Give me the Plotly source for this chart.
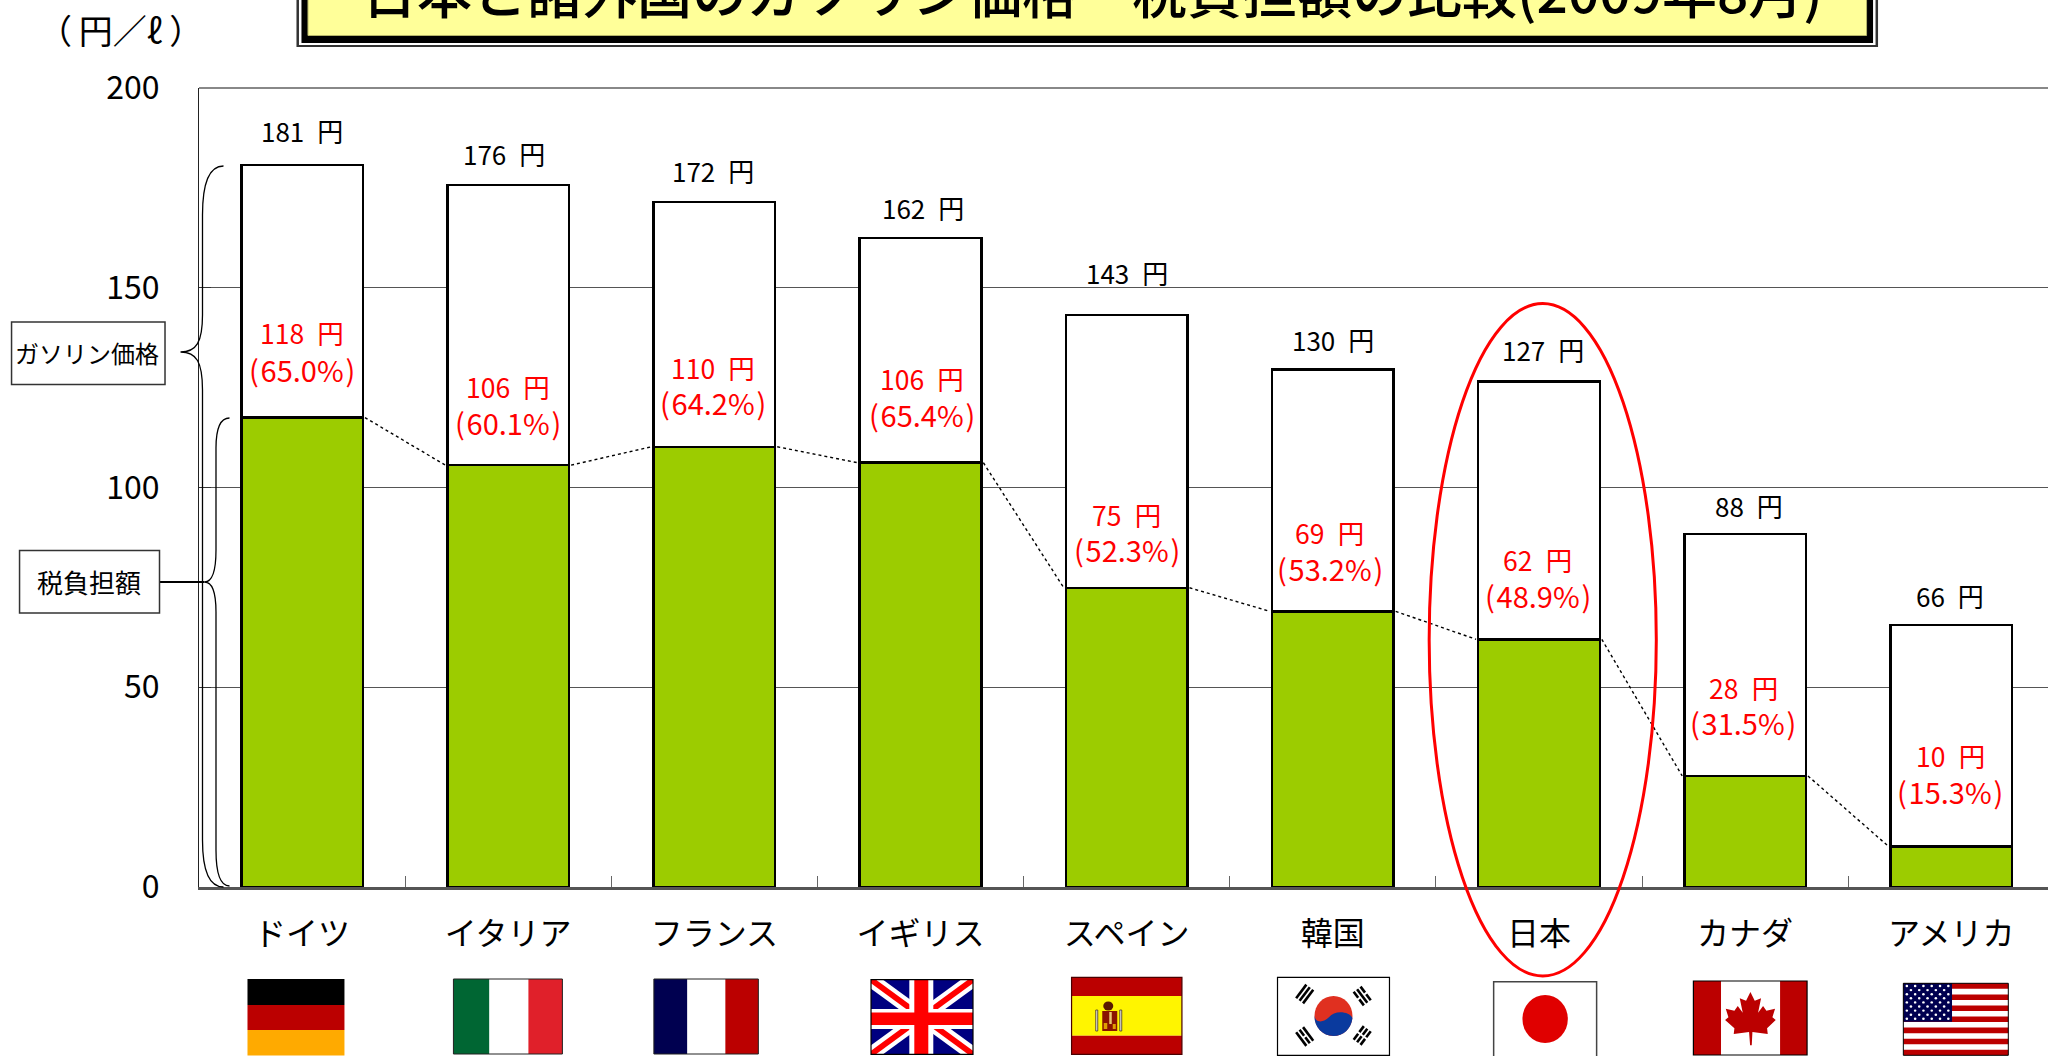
import plotly.graph_objects as go

# ---------- data ----------
countries = ["ドイツ", "イタリア", "フランス", "イギリス", "スペイン", "韓国", "日本", "カナダ", "アメリカ"]
price = [180.7, 175.7, 171.5, 162.4, 143.2, 129.6, 126.5, 88.3, 65.6]
tax = [117.5, 105.6, 110.2, 106.2, 74.9, 69.0, 62.0, 27.8, 10.2]
price_label = [181, 176, 172, 162, 143, 130, 127, 88, 66]
tax_label = [118, 106, 110, 106, 75, 69, 62, 28, 10]
tax_share = ["65.0", "60.1", "64.2", "65.4", "52.3", "53.2", "48.9", "31.5", "15.3"]
y_ticks = [0, 50, 100, 150, 200]

TITLE = "日本と諸外国のガソリン価格・税負担額の比較(2009年8月)"
UNIT = "（\u2009円／ℓ\u2009）"
PRICE_TAG = "ガソリン価格"
TAX_TAG = "税負担額"

# ---------- layout geometry (pixels of the page) ----------
W, H = 2048, 1056
L, T, B = 198.5, 88, 887
x_hi = -0.5 + (W - L) / 206.2
FONT = "Noto Sans CJK JP"

def X(p): return (p - L) / (W - L)
def Y(p): return (B - p) / (B - T)

shapes = []

def rect(x0, y0, x1, y1, fill, line=None, lw=1):
    shapes.append(dict(type="rect", xref="paper", yref="paper", x0=X(x0), x1=X(x1), y0=Y(y0), y1=Y(y1),
                       fillcolor=fill, line=dict(color=line or "rgba(0,0,0,0)", width=lw if line else 0), layer="above"))

def poly(pts, fill):
    d = "M " + " L ".join(f"{X(a):.5f},{Y(b):.5f}" for a, b in pts) + " Z"
    shapes.append(dict(type="path", xref="paper", yref="paper", path=d, fillcolor=fill, line=dict(width=0), layer="above"))

def curve(cmds, color="black", width=1.3, fill=None):
    out = []
    for c in cmds:
        op, pts = c[0], c[1:]
        out.append(op + " " + " ".join(f"{X(a):.5f},{Y(b):.5f}" for a, b in pts))
    s = dict(type="path", xref="paper", yref="paper", path=" ".join(out), line=dict(color=color, width=width), layer="above")
    if fill:
        s["fillcolor"] = fill
        s["line"] = dict(width=0)
    shapes.append(s)

def circle(cx, cy, rx, ry, fill, line_w=0, line="black"):
    shapes.append(dict(type="circle", xref="paper", yref="paper", x0=X(cx - rx), x1=X(cx + rx), y0=Y(cy + ry), y1=Y(cy - ry),
                       fillcolor=fill, line=dict(width=line_w, color=line), layer="above"))

def seg(x0, y0, x1, y1, color="black", width=1.0):
    shapes.append(dict(type="line", xref="paper", yref="paper", x0=X(x0), x1=X(x1), y0=Y(y0), y1=Y(y1),
                       line=dict(color=color, width=width), layer="above"))

# top gridline is heavier in the picture
seg(L, T, W, T, "#888888", 2.2)

# title plate
rect(296, -30, 1878, 47, "#333333")
rect(298.5, -30, 1875.5, 45, "white")
rect(301, -30, 1873, 43, "black")
rect(307.5, -30, 1866.5, 35.5, "#ffff99", "#b5b56a", 1)

# braces and tag boxes
curve([("M", (223, 166)), ("C", (208, 166), (202, 185), (202, 215)), ("L", (202, 315)),
       ("C", (202, 342), (196, 352), (180, 352)), ("C", (196, 352), (202, 362), (202, 390)), ("L", (202, 840)),
       ("C", (202, 870), (208, 887), (223, 887))])
curve([("M", (229, 418)), ("C", (219, 418), (215.5, 430), (215.5, 448)), ("L", (215.5, 550)),
       ("C", (215.5, 572), (212, 582), (204, 582)), ("C", (212, 582), (215.5, 592), (215.5, 612)), ("L", (215.5, 850)),
       ("C", (215.5, 875), (220, 886), (229, 886))])
seg(159, 582, 204, 582, "black", 2)
rect(11, 322, 164.5, 384.5, "white", "#333333", 1.5)
rect(19, 550.5, 159, 613, "white", "#333333", 1.5)

# ---------- flags ----------
RED, NAVY = "#bb0000", "#000050"
# Germany
rect(247, 979, 344, 1005, "black"); rect(247, 1005, 344, 1030, RED); rect(247, 1030, 344, 1055.5, "#ffaa00")
# Italy
rect(453, 979, 489, 1054, "#006633"); rect(489, 979, 528, 1054, "white"); rect(528, 979, 562, 1054, "#e0202a")
rect(453, 979, 562, 1054, "rgba(0,0,0,0)", "#222222", 1)
# France
rect(653.5, 979, 687, 1054, NAVY); rect(687, 979, 725, 1054, "white"); rect(725, 979, 758, 1054, RED)
rect(653.5, 979, 758, 1054, "rgba(0,0,0,0)", "#222222", 1)
# UK
ux0, ux1, uy0, uy1 = 870.7, 972.7, 979.7, 1054.3
rect(ux0, uy0, ux1, uy1, "#000080")
for col, dx, dy in (("white", 12, 9), ("#ff0000", 5, 3.5)):
    poly([(ux0, uy0), (ux0 + dx, uy0), (ux1, uy1 - dy), (ux1, uy1), (ux1 - dx, uy1), (ux0, uy0 + dy)], col)
    poly([(ux1, uy0), (ux1 - dx, uy0), (ux0, uy1 - dy), (ux0, uy1), (ux0 + dx, uy1), (ux1, uy0 + dy)], col)
rect(909, uy0, 933, uy1, "white"); rect(ux0, 1009, ux1, 1029, "white")
rect(914, uy0, 928, uy1, "#ff0000"); rect(ux0, 1012.5, ux1, 1025, "#ff0000")
rect(ux0, uy0, ux1, uy1, "rgba(0,0,0,0)", "black", 1.2)
# Spain
rect(1071.3, 977.3, 1181.7, 996, RED); rect(1071.3, 996, 1181.7, 1035.7, "#fff500"); rect(1071.3, 1035.7, 1181.7, 1054.3, RED)
rect(1071.3, 977.3, 1181.7, 1054.3, "rgba(0,0,0,0)", "#4a0000", 1.2)
circle(1108, 1006, 5, 4.5, "#5a1a00")
rect(1102, 1011, 1117, 1031, "#8a1400")
rect(1109, 1012, 1111.5, 1024, "#e8c870")
rect(1103.5, 1023, 1107, 1029, "#e0a000")
rect(1112.5, 1024, 1115.5, 1029, "#e0a000")
for px in (1096.5, 1120.5):
    rect(px - 1, 1010, px + 1, 1031, "#e8e8e0", "#40302a", 0.8)
# Korea
rect(1277.3, 977.3, 1389.3, 1055.3, "white", "black", 1.2)
circle(1333.3, 1016, 19, 20, "#e03020")
curve([("M", (1314.3, 1016)), ("C", (1316, 1024), (1324, 1022), (1329, 1017)),
       ("C", (1334, 1010), (1349, 1011), (1352.3, 1018)),
       ("C", (1351, 1029), (1343, 1036), (1333.3, 1036)), ("C", (1322, 1036), (1314, 1027), (1314.3, 1016)), ("Z",)],
      fill="#0a3a9e")
def trigram(cx, cy, ux, uy, pattern):
    # (ux, uy) runs along the bars; bars stack along the perpendicular
    vx, vy = -uy, ux
    for k, broken in zip((-1, 0, 1), pattern):
        ox, oy = cx + k * 4.3 * vx, cy + k * 4.3 * vy
        if broken:
            seg(ox - 8.5 * ux, oy - 8.5 * uy, ox - 1 * ux, oy - 1 * uy, "black", 2.6)
            seg(ox + 1 * ux, oy + 1 * uy, ox + 8.5 * ux, oy + 8.5 * uy, "black", 2.6)
        else:
            seg(ox - 8.5 * ux, oy - 8.5 * uy, ox + 8.5 * ux, oy + 8.5 * uy, "black", 2.6)
a, b = 0.6, 0.8
trigram(1304.5, 994, a, -b, (0, 0, 0))
trigram(1362, 996, a, b, (1, 0, 1))
trigram(1304.5, 1036.5, a, b, (0, 1, 0))
trigram(1362, 1035.5, a, -b, (1, 1, 1))
# Japan
rect(1493.5, 981.7, 1596.5, 1070, "white", "#444444", 1.5)
circle(1545, 1019, 22.7, 24, "#e00000")
# Canada
rect(1693.3, 981, 1721, 1055, RED); rect(1721, 981, 1780, 1055, "white"); rect(1780, 981, 1807, 1055, RED)
rect(1693.3, 981, 1807, 1055, "rgba(0,0,0,0)", "black", 1.2)
leaf = [(196, 66), (183, 92), (164, 85), (173, 128), (158, 108), (148, 122), (122, 116), (130, 142), (120, 150),
        (148, 175), (146, 192), (192, 186), (195, 226), (200, 226), (202, 186), (248, 192), (246, 175), (272, 150),
        (262, 142), (270, 116), (244, 122), (234, 108), (219, 128), (228, 85), (209, 92)]
poly([(1685 + p / 3, 970 + q / 3) for p, q in leaf], RED)
# USA
sx0, sx1, sy0, sy1 = 1903.3, 2008.3, 983.3, 1055.3
rect(sx0, sy0, sx1, sy1, "white")
h = (sy1 - sy0) / 13
for k in range(0, 13, 2):
    rect(sx0, sy0 + k * h, sx1, sy0 + (k + 1) * h, RED)
rect(sx0, sy0, 1952, 1021.7, NAVY)
for r in range(9):
    cnt, off = (6, 0) if r % 2 == 0 else (5, 4.1)
    for c in range(cnt):
        circle(1906.8 + off + c * 8.3, 986 + r * 4.1, 1.3, 1.2, "white")
rect(sx0, sy0, sx1, sy1, "rgba(0,0,0,0)", "black", 1)

# red ring round Japan
circle(1542.6, 639.8, 113.6, 336.2, "rgba(0,0,0,0)", 3, "#ff0000")

# ---------- traces ----------
idx = list(range(len(countries)))
BAR_W = 0.59
fig = go.Figure()
fig.add_bar(x=idx, y=tax, width=BAR_W, marker=dict(color="#9ccc00", line=dict(color="black", width=2.5)), showlegend=False)
fig.add_bar(x=idx, y=[round(p - t, 1) for p, t in zip(price, tax)], width=BAR_W,
            marker=dict(color="white", line=dict(color="black", width=2.5)), showlegend=False)
for i in idx[:-1]:
    fig.add_scatter(x=[i + BAR_W / 2 + 0.01, i + 1 - BAR_W / 2 - 0.01], y=[tax[i], tax[i + 1]], mode="lines",
                    line=dict(color="black", width=1.4, dash="dot"), showlegend=False)

# ---------- text ----------
ann = []
def note(x, y, text, size, color="black", xref="paper", xshift=0, **kw):
    ann.append(dict(x=x, y=y, xref=xref, yref="paper", text=text, showarrow=False, xanchor="center", yanchor="middle",
                    font=dict(family=FONT, size=size, color=color), xshift=xshift, **kw))

price_center_px = [130.7, 153.7, 170.7, 207.2, 272.7, 339.2, 349.2, 505.2, 595.2]
price_dx = [0, -4, -1, 2, 0, 0, 4, 4, -1]
for i, p in enumerate(price_label):
    note(i, Y(price_center_px[i]), f"{p}\u2002円", 26, xref="x", xshift=price_dx[i])

red_line1_px = [332.5, 386.5, 367.5, 379, 514.5, 532.5, 559.5, 687.5, 755.5]
red_line2_px = [369, 421.5, 402, 414, 549, 568, 595, 722, 791]
red_dx = [0, 0, -1, 1, 0, -3, -1, -2, -1]
for i, t in enumerate(tax_label):
    note(i, Y(red_line1_px[i]), f"{t}\u2002円", 26.5, "#ff0000", xref="x", xshift=red_dx[i])
    note(i, Y(red_line2_px[i]), f"(\u200a{tax_share[i]}%\u200a)", 29, "#ff0000", xref="x", xshift=red_dx[i])

note(X(1092), Y(-11), TITLE, 55, "black")
ann[-1]["font"]["weight"] = 500
note(X(120), Y(30), UNIT, 34)
note(X(86.5), Y(352), PRICE_TAG, 24)
note(X(88), Y(581), TAX_TAG, 26)

fig.update_layout(
    width=W, height=H, autosize=False,
    margin=dict(l=L, r=0, t=T, b=H - B, pad=0),
    paper_bgcolor="white", plot_bgcolor="white",
    barmode="stack", bargap=0.41, showlegend=False,
    font=dict(family=FONT, color="black"),
    shapes=shapes, annotations=ann,
    xaxis=dict(range=[-0.5, x_hi], tickmode="array", tickvals=idx, ticktext=countries, ticks="", showgrid=False,
               zeroline=False, showline=True, linecolor="#555555", linewidth=2.5,
               tickfont=dict(family=FONT, size=32), ticklabelstandoff=17,
               minor=dict(tickmode="array", tickvals=[i + 0.5 for i in idx], ticks="inside", ticklen=11, tickwidth=1,
                          tickcolor="#666666", showgrid=False)),
    yaxis=dict(range=[0, 200], tickmode="array", tickvals=y_ticks, ticks="inside", ticklen=12, tickwidth=1,
               tickcolor="#333333", showgrid=True, gridcolor="#555555", gridwidth=1, zeroline=False,
               showline=True, linecolor="#222222", linewidth=1.2,
               tickfont=dict(family=FONT, size=32), ticklabelstandoff=32),
)

fig.write_html("out.html", config={"displayModeBar": False},
               post_script="document.body.style.margin='0';document.body.style.overflow='hidden';")
